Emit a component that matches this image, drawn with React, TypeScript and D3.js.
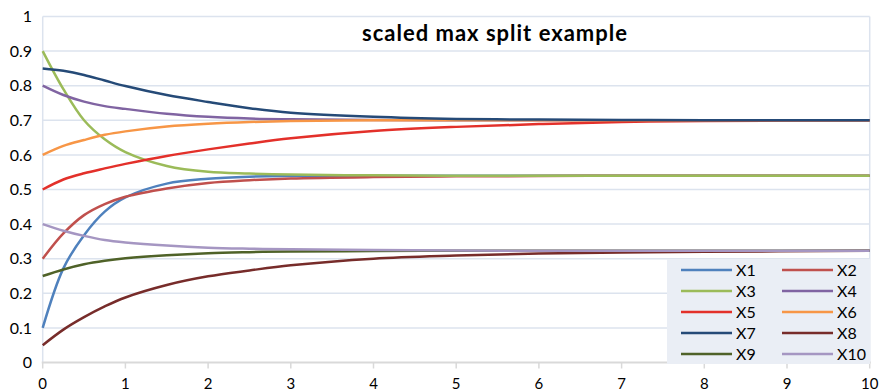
import React from "react";
import * as d3 from "d3";

const xs = [0, 0.25, 0.5, 0.75, 1, 1.5, 2, 2.5, 3, 4, 5, 6, 7, 8, 10];
const seriesNames = ["X1", "X2", "X3", "X4", "X5", "X6", "X7", "X8", "X9", "X10"];
const X1 = [0.10, 0.272, 0.368, 0.436, 0.477, 0.517, 0.531, 0.537, 0.539, 0.540, 0.540, 0.540, 0.540, 0.540, 0.540];
const X2 = [0.30, 0.373, 0.426, 0.458, 0.479, 0.503, 0.519, 0.527, 0.532, 0.536, 0.538, 0.539, 0.540, 0.540, 0.540];
const X3 = [0.90, 0.79, 0.70, 0.645, 0.608, 0.568, 0.551, 0.546, 0.543, 0.541, 0.540, 0.540, 0.540, 0.540, 0.540];
const X4 = [0.80, 0.773, 0.754, 0.741, 0.733, 0.719, 0.710, 0.705, 0.703, 0.701, 0.700, 0.700, 0.700, 0.700, 0.700];
const X5 = [0.50, 0.529, 0.547, 0.561, 0.574, 0.597, 0.616, 0.633, 0.648, 0.669, 0.681, 0.689, 0.695, 0.698, 0.700];
const X6 = [0.60, 0.626, 0.643, 0.658, 0.668, 0.682, 0.690, 0.695, 0.698, 0.700, 0.700, 0.700, 0.700, 0.700, 0.700];
const X7 = [0.85, 0.843, 0.831, 0.815, 0.799, 0.773, 0.753, 0.735, 0.722, 0.710, 0.704, 0.702, 0.701, 0.700, 0.700];
const X8 = [0.05, 0.095, 0.131, 0.162, 0.188, 0.224, 0.249, 0.266, 0.281, 0.300, 0.309, 0.315, 0.318, 0.320, 0.323];
const X9 = [0.25, 0.269, 0.284, 0.294, 0.301, 0.310, 0.316, 0.319, 0.321, 0.322, 0.323, 0.323, 0.323, 0.323, 0.323];
const X10 = [0.40, 0.381, 0.366, 0.354, 0.347, 0.338, 0.332, 0.329, 0.327, 0.325, 0.324, 0.323, 0.323, 0.323, 0.323];
const seriesValues = [X1, X2, X3, X4, X5, X6, X7, X8, X9, X10];
const colors = ["#4F81BD", "#C0504D", "#9BBB59", "#8064A2", "#E3302A", "#F79646", "#254A77", "#772C2A", "#4F6228", "#A596C2"];
const xTicks = [0, 1, 2, 3, 4, 5, 6, 7, 8, 9, 10];
const yTicks = [0, 0.1, 0.2, 0.3, 0.4, 0.5, 0.6, 0.7, 0.8, 0.9, 1];
const title = "scaled max split example";

const FONT = "Lato, 'Open Sans', sans-serif";

export default function App() {
  const x = d3.scaleLinear().domain([0, 10]).range([42.7, 869.7]);
  const y = d3.scaleLinear().domain([0, 1]).range([362.5, 16.5]);
  const line = d3
    .line<number>()
    .x((_, i) => x(xs[i]))
    .y((d) => y(d))
    .curve(d3.curveCatmullRom.alpha(0.5));

  const legX = 667, legY = 259, legW = 203, legH = 105;
  const rowH = 21;

  return (
    <svg width={880} height={392} style={{ position: "absolute", left: 0, top: 0 }} fontFamily={FONT}>
      <rect width={880} height={392} fill="#ffffff" />
      {yTicks.slice(1).map((t) => (
        <line key={"g" + t} x1={x(0)} x2={x(10)} y1={y(t)} y2={y(t)} stroke="#DCE3EE" strokeWidth={1.5} />
      ))}
      <line x1={x(0)} x2={x(0)} y1={y(1)} y2={y(0)} stroke="#DCE3EE" strokeWidth={1.5} />
      <line x1={x(10)} x2={x(10)} y1={y(1)} y2={y(0)} stroke="#DCE3EE" strokeWidth={1.5} />
      <line x1={x(0) - 1} x2={x(10) + 1} y1={y(0)} y2={y(0)} stroke="#D9D9D9" strokeWidth={2} />
      {xTicks.map((t) => (
        <line key={"t" + t} x1={x(t)} x2={x(t)} y1={y(0)} y2={y(0) + 6} stroke="#D9D9D9" strokeWidth={1.5} />
      ))}
      {yTicks.map((t) => (
        <text key={"y" + t} x={32} y={y(t)} dy="0.35em" textAnchor="end" fontSize={16} fill="#000">
          {d3.format("~g")(t)}
        </text>
      ))}
      {xTicks.map((t) => (
        <text key={"x" + t} x={x(t)} y={388.5} textAnchor="middle" fontSize={15} fill="#000">
          {t}
        </text>
      ))}
      {seriesValues.map((vals, i) => (
        <path key={seriesNames[i]} d={line(vals) || ""} fill="none" stroke={colors[i]} strokeWidth={2.5} />
      ))}
      <text x={495} y={41} textAnchor="middle" fontSize={22} fontWeight="bold" letterSpacing={1} fill="#000">
        {title}
      </text>
      <rect x={legX} y={legY} width={legW} height={legH} fill="#EAEEF5" />
      {seriesNames.map((name, i) => {
        const col = i % 2;
        const row = Math.floor(i / 2);
        const cy = 270 + row * rowH;
        const lx = col === 0 ? 681 : 782;
        return (
          <g key={"l" + name}>
            <line x1={lx} x2={lx + 51} y1={cy} y2={cy} stroke={colors[i]} strokeWidth={2.5} />
            <text x={lx + 55} y={cy} dy="0.35em" fontSize={16} fill="#000">
              {name}
            </text>
          </g>
        );
      })}
    </svg>
  );
}
